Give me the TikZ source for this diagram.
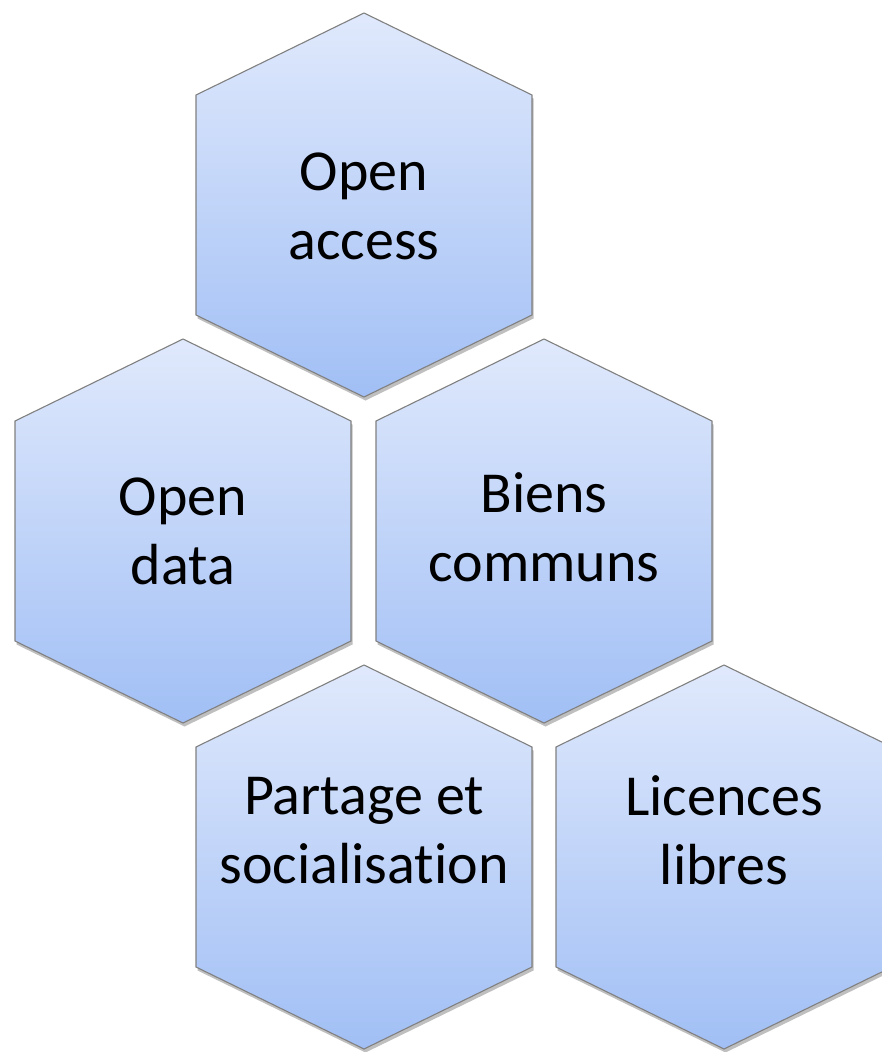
\documentclass[tikz,border=0pt]{standalone}
\usepackage{fontspec}
\setmainfont{Carlito}[Ligatures=NoCommon]
\usetikzlibrary{shadows}
\definecolor{hextop}{RGB}{224,233,252}
\definecolor{hexbot}{RGB}{161,191,245}
\definecolor{hexline}{RGB}{128,128,128}
\tikzset{
  hexcell/.style={draw=hexline, line width=1.1pt, line join=miter,
    top color=hextop, bottom color=hexbot,
    drop shadow={opacity=0.25, shadow xshift=1.5pt, shadow yshift=-3.5pt, fill=black}},
  hexlabel/.style={align=center, font=\fontsize{58}{69}\selectfont, text=black, inner sep=0pt}
}
\newcommand\hexcellat[2]{%
  \path[hexcell] (#1,#2-192) -- (#1+168,#2-110) -- (#1+168,#2+110) -- (#1,#2+192)
    -- (#1-168,#2+110) -- (#1-168,#2-110) -- cycle;}
\begin{document}
\begin{tikzpicture}[x=1pt,y=-1pt]
  \clip (0,0) rectangle (882,1052);
  \fill[white] (0,0) rectangle (882,1052);
  \hexcellat{364}{205}
  \hexcellat{183}{531}
  \hexcellat{544}{531}
  \hexcellat{364}{857}
  \hexcellat{724}{857}
  \node[hexlabel] (oa) at (364,206) {Open\\access};
  \node[hexlabel] (od) at (183,531) {Open\\data};
  \node[hexlabel] (bc) at (544,527) {Biens\\communs};
  \node[hexlabel] (ps) at (364,831) {Partage et\\socialisation};
  \node[hexlabel] (ll) at (724,830) {Licences\\libres};
\end{tikzpicture}
\end{document}
